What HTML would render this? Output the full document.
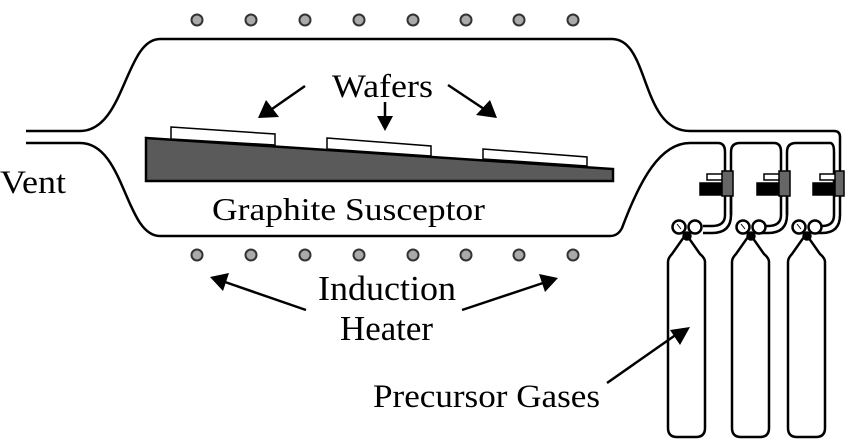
<!DOCTYPE html>
<html><head><meta charset="utf-8"><style>
html,body{margin:0;padding:0;background:#fff;}
svg{display:block;}
</style></head><body>
<svg width="850" height="441" viewBox="0 0 850 441" xmlns="http://www.w3.org/2000/svg">
<g fill="none" stroke="#000" stroke-width="2.5">
<path d="M26,131 L80,131 C125,131 125,39 160,39 L612,39 C650,39 640,131 690,131 L834,131 Q840,131 840,137 L840,172"/>
<path d="M26,143 L80,143 C125,143 125,236 160,236 L610,236 Q618,236 622,228 C640,180 660,143 690,143 L718,143 Q725,143 725,152 L725,215 Q725,226 712,226 L703,226"/>
<path d="M731,215 L731,152 Q731,143 740,143 L774,143 Q781,143 781,152 L781,215 Q781,226 768,226 L760,226"/>
<path d="M787,215 L787,152 Q787,143 796,143 L830,143 Q834,143 834,152 L834,215 Q834,226 822,226 L814,226"/>
<path d="M731,172 L731,215 Q731,233 712,233 L703,233"/>
<path d="M787,172 L787,215 Q787,233 768,233 L760,233"/>
<path d="M840,172 L840,215 Q840,233 822,233 L814,233"/>
</g>
<g stroke="#000" stroke-width="1.5">
<rect x="700" y="183" width="23" height="12" fill="#000"/>
<rect x="707" y="174" width="16" height="6" fill="#fff"/>
<rect x="722" y="171" width="11" height="25" fill="#666"/>
<rect x="757" y="183" width="23" height="12" fill="#000"/>
<rect x="764" y="174" width="16" height="6" fill="#fff"/>
<rect x="779" y="171" width="11" height="25" fill="#666"/>
<rect x="813" y="183" width="23" height="12" fill="#000"/>
<rect x="820" y="174" width="16" height="6" fill="#fff"/>
<rect x="835" y="171" width="9" height="25" fill="#666"/>
</g>
<g fill="none" stroke="#000" stroke-width="2.5">
<g id="cyl">
<path d="M668,428 L668,262 Q668,258 672,254 L686,234 L700,254 Q705,258 705,262 L705,428 Q705,437 696,437 L677,437 Q668,437 668,428 Z" fill="#fff"/>
<circle cx="679" cy="227" r="6.5" fill="#fff"/>
<circle cx="695" cy="227" r="6.5" fill="#fff"/>
<circle cx="687" cy="236" r="3.5" fill="#000"/>
<line x1="677" y1="224" x2="681" y2="229" stroke-width="1"/>
</g>
<use href="#cyl" transform="translate(64,0)"/>
<use href="#cyl" transform="translate(120,0)"/>
</g>
<polygon points="146,138 613,169 613,181 146,181" fill="#5a5a5a" stroke="#000" stroke-width="2.5"/>
<g fill="#fff" stroke="#000" stroke-width="1.5">
<polygon points="171,127 275,134 275,145 171,139"/>
<polygon points="327,138 431,146 431,156 327,149"/>
<polygon points="483,149 587,157 587,166 483,159"/>
</g>
<g fill="#aaa" stroke="#333" stroke-width="2">
<circle cx="197" cy="20" r="5.5"/><circle cx="251" cy="20" r="5.5"/><circle cx="305" cy="20" r="5.5"/><circle cx="359" cy="20" r="5.5"/>
<circle cx="413" cy="20" r="5.5"/><circle cx="466" cy="20" r="5.5"/><circle cx="519" cy="20" r="5.5"/><circle cx="573" cy="20" r="5.5"/>
<circle cx="197" cy="255" r="5.5"/><circle cx="251" cy="255" r="5.5"/><circle cx="305" cy="255" r="5.5"/><circle cx="359" cy="255" r="5.5"/>
<circle cx="413" cy="255" r="5.5"/><circle cx="466" cy="255" r="5.5"/><circle cx="519" cy="255" r="5.5"/><circle cx="573" cy="255" r="5.5"/>
</g>
<g stroke="#000" stroke-width="2.5">
<line x1="305" y1="86" x2="272" y2="109"/>
<line x1="385" y1="102" x2="385" y2="118"/>
<line x1="448" y1="85" x2="484" y2="109"/>
<line x1="306" y1="310" x2="225" y2="282"/>
<line x1="462" y1="310" x2="543" y2="283"/>
<line x1="607" y1="383" x2="677" y2="334"/>
</g>
<g fill="#000">
<polygon points="258,118 266,100 279,117"/>
<polygon points="385,131 377,116 393,116"/>
<polygon points="497,118 476,115 490,100"/>
<polygon points="210,277 229,273 223,291"/>
<polygon points="558,278 545,292 539,274"/>
<polygon points="690,327 680,345 670,330"/>
</g>
<g font-family="Liberation Serif, DejaVu Serif, serif" fill="#000">
<text x="332" y="97" font-size="33" textLength="101" lengthAdjust="spacingAndGlyphs">Wafers</text>
<text x="0" y="193" font-size="33" textLength="66" lengthAdjust="spacingAndGlyphs">Vent</text>
<text x="212" y="220" font-size="32" textLength="273" lengthAdjust="spacingAndGlyphs">Graphite Susceptor</text>
<text x="318" y="300" font-size="35" textLength="138" lengthAdjust="spacingAndGlyphs">Induction</text>
<text x="340" y="340" font-size="35" textLength="93" lengthAdjust="spacingAndGlyphs">Heater</text>
<text x="373" y="407" font-size="33" textLength="227" lengthAdjust="spacingAndGlyphs">Precursor Gases</text>
</g>
</svg>
</body></html>
